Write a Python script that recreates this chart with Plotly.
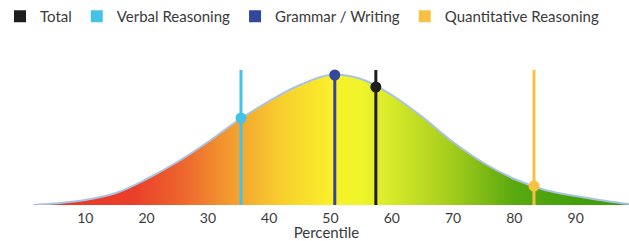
import plotly.graph_objects as go

# Bell curve (percentile -> relative height)
curve_x = [1.5, 5, 10, 15, 20, 25, 30, 35, 40, 45, 50, 55, 60, 65, 70, 75, 80, 85, 90, 95, 98.7]
curve_y = [0, 1.5, 5, 12, 26, 43, 63, 85, 104, 120, 130, 126, 110, 88, 63, 42, 26, 15, 9, 4, 1]

series = ["Total", "Verbal Reasoning", "Grammar / Writing", "Quantitative Reasoning"]
scores = [57.4, 35.4, 50.7, 83.2]
marker_heights = [118, 87, 130, 19]
line_top = 135
colors = ["#1e1e1e", "#45c3e6", "#33479c", "#f7c244"]

tick_vals = [10, 20, 30, 40, 50, 60, 70, 80, 90]

fig = go.Figure()

fig.add_trace(go.Scatter(
    x=curve_x, y=curve_y, mode="lines", line=dict(color="#a9c3e2", width=2, shape="spline"),
    fill="tozeroy",
    fillgradient=dict(type="horizontal", start=0, stop=100, colorscale=[
        [0.0, "#e8352a"], [0.18, "#ea3f2a"], [0.26, "#ee662e"], [0.35, "#f4a430"],
        [0.42, "#f8cf2e"], [0.50, "#fbef2a"], [0.55, "#eef52a"], [0.60, "#d6ea2a"],
        [0.70, "#a2cc1c"], [0.80, "#5aa810"], [0.90, "#44a00a"], [1.0, "#3f9c08"]]),
    showlegend=False, hoverinfo="skip"))

for name, s, h, c in zip(series, scores, marker_heights, colors):
    fig.add_trace(go.Scatter(x=[s, s], y=[0, line_top], mode="lines",
                             line=dict(color=c, width=3), showlegend=False, hoverinfo="skip"))
    fig.add_trace(go.Scatter(x=[s], y=[h], mode="markers",
                             marker=dict(color=c, size=11), showlegend=False))

for name, c in zip(series, colors):
    fig.add_trace(go.Scatter(x=[None], y=[None], mode="markers", name=name,
                             marker=dict(color=c, size=11, symbol="square")))

fig.update_layout(
    width=629, height=241,
    margin=dict(l=24, r=0, t=50, b=36, autoexpand=False),
    paper_bgcolor="white", plot_bgcolor="white",
    font=dict(family="Lato", size=14, color="#3a3a3a"),
    showlegend=True,
    legend=dict(orientation="h", x=0, y=1, xanchor="left", yanchor="top",
                xref="container", yref="container", font=dict(size=15),
                itemsizing="constant", bgcolor="rgba(0,0,0,0)"),
    xaxis=dict(range=[0, 98.7], tickvals=tick_vals, showgrid=False, zeroline=False,
               showline=False, ticks="", ticklabelstandoff=3, automargin=False,
               tickfont=dict(size=14),
               title=dict(text="Percentile", standoff=2, font=dict(size=15))),
    yaxis=dict(range=[0, 155], visible=False, automargin=False),
)

fig.write_html("out.html", config={"displayModeBar": False},
               post_script="document.body.style.margin='0';")
